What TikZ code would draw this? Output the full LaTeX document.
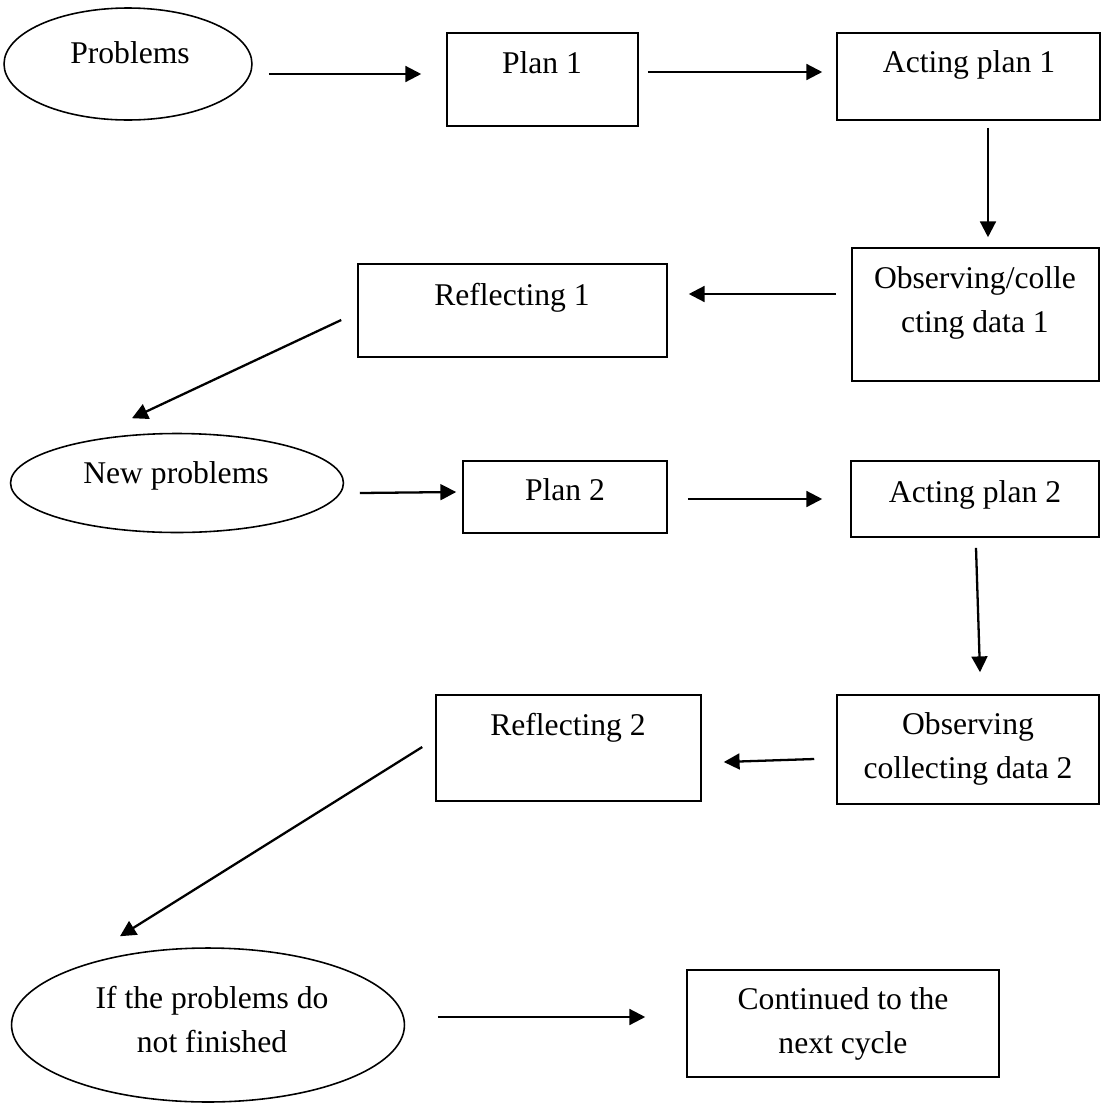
\documentclass[tikz,border=0pt]{standalone}
\usepackage{fontspec}
\setmainfont{Liberation Serif}
\usepackage{tikz}
\usetikzlibrary{arrows.meta, shapes.geometric}

\tikzset{
    box/.style={draw, line width=0.9pt, inner sep=0pt},
    oval/.style={draw, ellipse, line width=0.9pt, inner sep=0pt},
    txt/.style={anchor=base, align=center, inner sep=0pt, font=\fontsize{18}{25}\selectfont},
    arr/.style={line width=1.3pt, -{Triangle[length=9pt,width=9pt]}}
}

\begin{document}
\begin{tikzpicture}[x=0.02cm, y=-0.02cm]
        \useasboundingbox (0,0) rectangle (1102,1103);
        % shapes
        \node[oval, minimum width=4.96cm, minimum height=2.24cm] (prob) at (128,64) {};
        \node[box, minimum width=3.82cm, minimum height=1.86cm] (plan1) at (542.5,79.5) {};
        \node[box, minimum width=5.26cm, minimum height=1.74cm] (act1) at (968.5,76.5) {};
        \node[box, minimum width=4.94cm, minimum height=2.66cm] (obs1) at (975.5,314.5) {};
        \node[box, minimum width=6.18cm, minimum height=1.86cm] (refl1) at (512.5,310.5) {};
        \node[oval, minimum width=6.66cm, minimum height=1.98cm] (newp) at (177,483) {};
        \node[box, minimum width=4.08cm, minimum height=1.44cm] (plan2) at (565,497) {};
        \node[box, minimum width=4.96cm, minimum height=1.52cm] (act2) at (975,499) {};
        \node[box, minimum width=5.24cm, minimum height=2.18cm] (obs2) at (968,749.5) {};
        \node[box, minimum width=5.30cm, minimum height=2.12cm] (refl2) at (568.5,748) {};
        \node[oval, minimum width=7.86cm, minimum height=3.08cm] (ifnot) at (208,1025) {};
        \node[box, minimum width=6.24cm, minimum height=2.14cm] (cont) at (843,1023.5) {};
        % texts (base = last line)
        \node[txt] (prob-t) at (130,63) {Problems};
        \node[txt] (plan1-t) at (542,73) {Plan 1};
        \node[txt] (act1-t) at (969,72) {Acting plan 1};
        \node[txt] (obs1-t) at (975,332) {Observing/colle\\cting data 1};
        \node[txt] (refl1-t) at (512,305) {Reflecting 1};
        \node[txt] (newp-t) at (176,483) {New problems};
        \node[txt] (plan2-t) at (565,500) {Plan 2};
        \node[txt] (act2-t) at (975,502) {Acting plan 2};
        \node[txt] (obs2-t) at (968,778) {Observing\\collecting data 2};
        \node[txt] (refl2-t) at (568,735) {Reflecting 2};
        \node[txt] (ifnot-t) at (212,1052) {If the problems do\\not finished};
        \node[txt] (cont-t) at (843,1053) {Continued to the\\next cycle};
        % arrows
        \draw[arr] ([shift={(16,10)}]prob.east) -- ([shift={(-25,-5.5)}]plan1.west);
        \draw[arr] ([shift={(9,-7.5)}]plan1.east) -- ([shift={(-14,-4.5)}]act1.west);
        \draw[arr] ([shift={(19.5,7)}]act1.south) -- ([shift={(12.5,-10)}]obs1.north);
        \draw[arr] ([shift={(-15,-20.5)}]obs1.west) -- ([shift={(21,-16.5)}]refl1.east);
        \draw[arr] ([shift={(-16,9.5)}]refl1.west) -- ([shift={(-45,-14.5)}]newp.north);
        \draw[arr] ([shift={(15.5,10)}]newp.east) -- ([shift={(-6,-5)}]plan2.west);
        \draw[arr] ([shift={(20,2)}]plan2.east) -- ([shift={(-28,0)}]act2.west);
        \draw[arr] ([shift={(1,10)}]act2.south) -- ([shift={(12,-22)}]obs2.north);
        \draw[arr] ([shift={(-22,9.5)}]obs2.west) -- ([shift={(22,14)}]refl2.east);
        \draw[arr] ([shift={(-13,-1)}]refl2.west) -- ([shift={(-88,-11)}]ifnot.north);
        \draw[arr] ([shift={(32.5,-8)}]ifnot.east) -- ([shift={(-41,-6.5)}]cont.west);
\end{tikzpicture}
\end{document}
